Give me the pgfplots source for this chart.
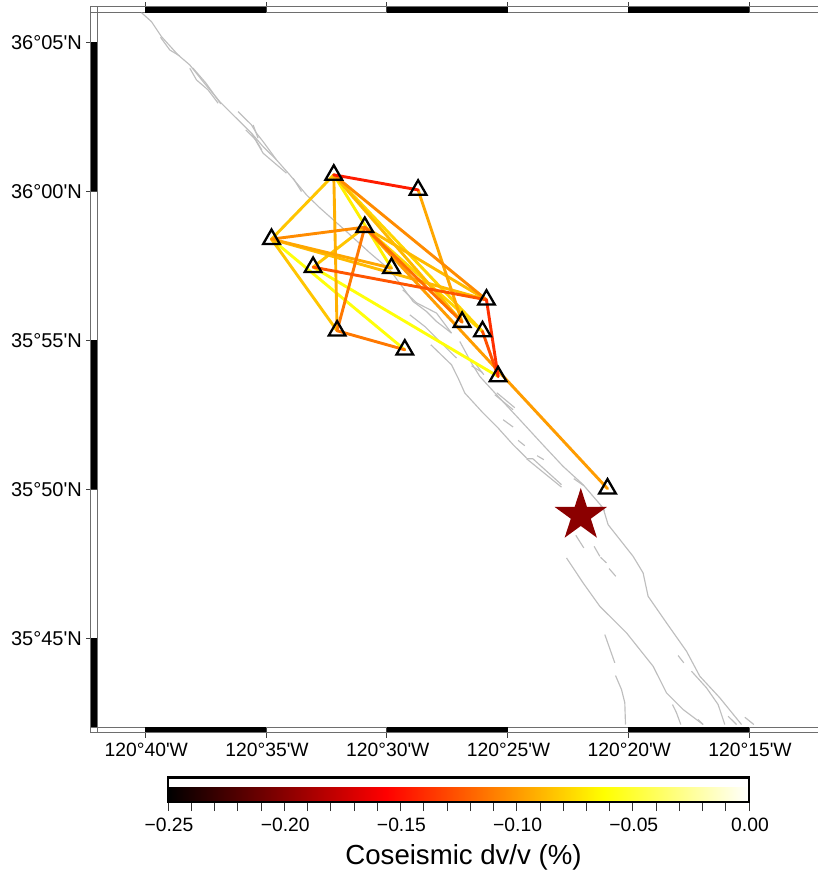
\documentclass[border=0pt]{standalone}
\usepackage{fontspec}
\setmainfont{Liberation Sans}[Ligatures=TeXOff]
\usepackage{pgfplots}
\pgfplotsset{compat=1.18}
\definecolor{faultgray}{RGB}{190,190,190}
\definecolor{frameline}{RGB}{110,110,110}
\definecolor{epic}{RGB}{139,0,0}
\pgfdeclareplotmark{fstar}{%
  \pgfpathmoveto{\pgfqpointpolar{90}{\pgfplotmarksize}}%
  \pgfpathlineto{\pgfqpointpolar{126}{.382\pgfplotmarksize}}%
  \pgfpathlineto{\pgfqpointpolar{162}{\pgfplotmarksize}}%
  \pgfpathlineto{\pgfqpointpolar{198}{.382\pgfplotmarksize}}%
  \pgfpathlineto{\pgfqpointpolar{234}{\pgfplotmarksize}}%
  \pgfpathlineto{\pgfqpointpolar{270}{.382\pgfplotmarksize}}%
  \pgfpathlineto{\pgfqpointpolar{306}{\pgfplotmarksize}}%
  \pgfpathlineto{\pgfqpointpolar{342}{.382\pgfplotmarksize}}%
  \pgfpathlineto{\pgfqpointpolar{18}{\pgfplotmarksize}}%
  \pgfpathlineto{\pgfqpointpolar{54}{.382\pgfplotmarksize}}%
  \pgfpathclose\pgfusepathqfill}
% fault traces, digitised as pixel positions on the map
\newcommand\fault[1]{\addplot[faultgray,line width=1.15pt,line join=round,forget plot]
  table[row sep=\\,x expr={-40+(\thisrow{px}-145.5)/24.15},y expr={65-(\thisrow{py}-42.5)/29.8}] {px py\\ #1};}
% station pair: x1 y1 x2 y2 in arc minutes (lon west of 120, lat north of 35), dv/v
\newcommand\edge[3]{\edef\tmpedge{\noexpand\addplot[mesh,line width=2.9pt,line cap=round,point meta=explicit,forget plot]
  coordinates {(#1) [#3] (#2) [#3]};}\tmpedge}
\def\stA{-32.195,60.554}\def\stB{-28.704,60.050}\def\stC{-34.774,58.396}
\def\stD{-30.911,58.799}\def\stE{-33.052,57.456}\def\stF{-29.805,57.423}
\def\stG{-25.872,56.359}\def\stH{-26.882,55.611}\def\stI{-26.037,55.295}
\def\stJ{-32.058,55.319}\def\stK{-29.255,54.681}\def\stL{-25.391,53.785}
\def\stM{-20.861,50.017}
\begin{document}
\begin{tikzpicture}[x=1pt,y=1pt]
\path[use as bounding box] (0,0) rectangle (817,873);
\begin{axis}[
  at={(97pt,145.6pt)},anchor=south west,
  scale only axis,width=724.5pt,height=714.7pt,
  xmin=-42,xmax=-12,ymin=42,ymax=66,
  clip=false,
  axis line style={frameline,line width=0.8pt},
  tick align=outside,major tick length=10.5pt,
  tick style={black!75,line width=0.7pt},
  xtick={-40,-35,-30,-25,-20,-15},
  xticklabels={120°40'W,120°35'W,120°30'W,120°25'W,120°20'W,120°15'W},
  ytick={45,50,55,60,65},
  yticklabels={35°45'N,35°50'N,35°55'N,36°00'N,36°05'N},
  xticklabel pos=lower,yticklabel pos=left,
  tick label style={font=\fontsize{19.3}{22}\selectfont},
  xticklabel style={inner sep=0pt,yshift=-5pt,xshift=1pt},
  yticklabel style={font=\fontsize{20}{22}\selectfont,inner sep=0pt,xshift=-4.5pt,yshift=-0.5pt},
  colormap={hotmap}{rgb255(0)=(0,0,0);rgb255(3)=(255,0,0);rgb255(6)=(255,255,0);rgb255(8)=(255,255,255)},
  point meta min=-0.25,point meta max=0,
  colorbar horizontal,
  colorbar style={
    at={(0.098,-0.1044)},anchor=south west,
    scale only axis,width=581pt,height=24.5pt,
    axis line style={black,line width=2.5pt},
    axis on top,
    xtick={-0.25,-0.2,-0.15,-0.1,-0.05,0},
    xticklabels={−0.25,−0.20,−0.15,−0.10,−0.05,0.00},
    minor xtick={-0.24,-0.23,-0.22,-0.21,-0.19,-0.18,-0.17,-0.16,-0.14,-0.13,-0.12,-0.11,-0.09,-0.08,-0.07,-0.06,-0.04,-0.03,-0.02,-0.01},
    xtick align=outside,xtick pos=lower,xticklabel pos=lower,
    major tick length=9pt,minor tick length=9pt,
    tick style={black!80,line width=0.7pt},
    xticklabel style={font=\fontsize{19.3}{22}\selectfont,inner sep=0pt,yshift=-7pt,xshift=1pt},
    xlabel={Coseismic dv/v (\%)},
    xlabel style={font=\fontsize{27.6}{30}\selectfont,inner sep=0pt,yshift=-12pt,xshift=5pt},
  },
]
% map frame bands
\foreach \a/\b in {-40/-35,-30/-25,-20/-15}{
  \edef\tmp{\noexpand\fill[black] (axis cs:\a,66) rectangle ([yshift=6.2pt]axis cs:\b,66);
  \noexpand\fill[black] (axis cs:\a,42) rectangle ([yshift=-5.4pt]axis cs:\b,42);}\tmp}
\foreach \a/\b in {65/60,55/50,45/42}{
  \edef\tmp{\noexpand\fill[black] (axis cs:-42,\a) rectangle ([xshift=-6.2pt]axis cs:-42,\b);}\tmp}
\draw[frameline,line width=0.8pt] ([xshift=-6.2pt,yshift=6.2pt]axis cs:-42,66) rectangle ([xshift=6.2pt,yshift=-5.4pt]axis cs:-12,42);
\draw[frameline,line width=0.8pt] ([xshift=-6.2pt]axis cs:-42,66) -- (axis cs:-42,66);
\draw[frameline,line width=0.8pt] ([xshift=-6.2pt]axis cs:-42,42) -- (axis cs:-42,42);
\draw[frameline,line width=0.8pt] ([yshift=6.2pt]axis cs:-42,66) -- (axis cs:-42,66);
\draw[frameline,line width=0.8pt] ([yshift=-5.4pt]axis cs:-42,42) -- (axis cs:-42,42);
% faults
\fault{141.7 12.7\\151.7 21.7\\161.7 36.7\\178.3 55\\190 65\\203.3 81.7\\220 101.7\\235 116.7\\251.7 133.3\\263.3 146.7\\276.7 160\\290 175\\306.7 195\\320 208\\346.7 231.7\\370 253\\390 270\\403.3 288\\413.3 301.7\\426.7 311.7\\436.7 321.7\\451.7 333.3\\}
\fault{160.7 37.3\\170 50\\180 56\\}
\fault{190 68.3\\196.7 80\\208.3 90\\218.3 103.3\\}
\fault{193 68\\206 83\\221 104\\}
\fault{238.3 111.7\\251.7 125\\256.7 133.3\\263.3 141.7\\276.7 160\\}
\fault{251.7 133.3\\263.3 153.3\\286.7 173.3\\}
\fault{253.3 125\\258.3 138.3\\}
\fault{293.3 178.3\\301.7 191.7\\}
\fault{246 130\\256 140\\262 150\\}
\fault{403 290\\416.7 303\\436.7 313.3\\451.7 333.3\\}
\fault{410 315\\425 326.7\\438.3 340\\456.7 358.3\\}
\fault{431 345\\451.7 365\\458.3 378.3\\465 393.3\\483.3 413.3\\498.3 428.3\\513.3 445\\526.7 458.3\\}
\fault{460 341.7\\471.7 363.3\\480 376.7\\496.7 395\\520 420\\543 445\\563.3 466.7\\583.3 485\\603.3 508.3\\608.3 525\\633.3 556.7\\643.3 573.3\\648.3 596.7\\666.7 623.3\\686.7 651.7\\700 676.7\\720 698.3\\741.7 725\\}
\fault{471.7 366\\483 373\\}
\fault{474 362\\484 375\\}
\fault{495 395\\513.3 410\\}
\fault{497 393\\515 408\\}
\fault{574 479\\584 486\\}
\fault{600 507\\605 511\\}
\fault{691.7 671.7\\706.7 688.3\\718.3 705\\725 725\\}
\fault{728.3 716.7\\736.7 725\\}
\fault{745 717.7\\754 725\\}
\fault{678.3 656\\684 663.3\\}
\fault{503.3 420\\513.3 427.3\\}
\fault{518.3 440.7\\525 446\\}
\fault{537.3 456\\544 460\\}
\fault{526.7 459\\533 459\\561.7 485\\}
\fault{526.7 459\\561.7 487.5\\}
\fault{576 535.7\\584 548.3\\}
\fault{594.3 546.7\\600 556.7\\}
\fault{600.7 557.7\\606.7 563.3\\}
\fault{609.3 569\\616 576.7\\}
\fault{566.7 558.3\\583.3 583.3\\600 606.7\\626.7 633.3\\653.3 666.7\\666.7 693.3\\683.3 710\\703.3 725\\}
\fault{672.7 705\\676.7 713.3\\681 725\\}
\fault{698.3 720\\703.3 725\\}
\fault{605 635\\615 663.3\\}
\fault{615.7 676\\621.7 690\\625 703.3\\625.7 725\\}
% stations
\addplot[only marks,mark=triangle,mark size=9.6pt,mark options={black,line width=2.3pt,line join=miter},forget plot] coordinates {
(-32.195,60.554)(-28.704,60.050)(-34.774,58.396)(-30.911,58.799)(-33.052,57.456)(-29.805,57.423)(-25.872,56.359)(-26.882,55.611)(-26.037,55.295)(-32.058,55.319)(-29.255,54.681)(-25.391,53.785)(-20.861,50.017)};
% station pairs
\edge{\stC}{\stK}{-0.060}
\edge{\stE}{\stL}{-0.060}
\edge{\stA}{\stF}{-0.068}
\edge{\stA}{\stI}{-0.078}
\edge{\stD}{\stI}{-0.078}
\edge{\stA}{\stC}{-0.084}
\edge{\stC}{\stJ}{-0.084}
\edge{\stD}{\stE}{-0.084}
\edge{\stA}{\stH}{-0.088}
\edge{\stC}{\stG}{-0.088}
\edge{\stD}{\stG}{-0.088}
\edge{\stA}{\stJ}{-0.092}
\edge{\stB}{\stH}{-0.095}
\edge{\stC}{\stF}{-0.095}
\edge{\stD}{\stM}{-0.099}
\edge{\stA}{\stG}{-0.105}
\edge{\stC}{\stD}{-0.105}
\edge{\stD}{\stJ}{-0.112}
\edge{\stJ}{\stK}{-0.112}
\edge{\stD}{\stH}{-0.115}
\edge{\stE}{\stG}{-0.125}
\edge{\stI}{\stL}{-0.127}
\edge{\stG}{\stL}{-0.139}
\edge{\stA}{\stB}{-0.146}
% epicentre
\addplot[only marks,mark=fstar,mark size=27.5pt,mark options={epic,fill=epic},forget plot] coordinates {(-21.967,49.117)};
\end{axis}
\end{tikzpicture}
\end{document}
